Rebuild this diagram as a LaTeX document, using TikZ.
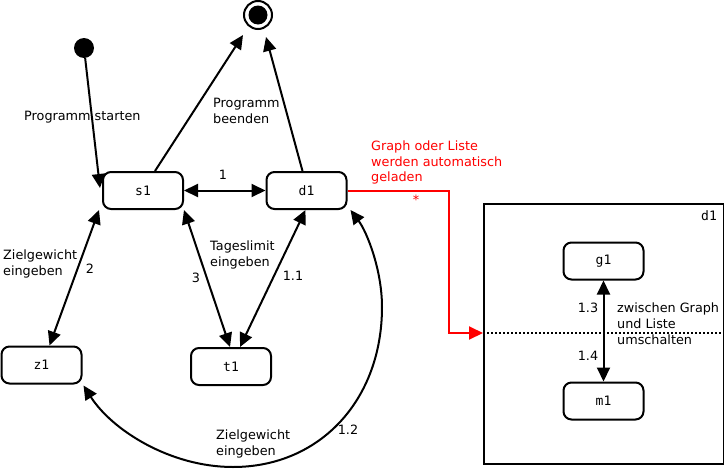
\documentclass[tikz,border=0pt]{standalone}
\usepackage{fontspec}
\setmainfont{DejaVu Sans}
\newfontfamily\monofnt{DejaVu Sans Mono}
\usetikzlibrary{arrows.meta}
\begin{document}
\begin{tikzpicture}[x=1pt,y=-1pt,
  statebox/.style={draw,line width=2pt,rounded corners=8pt,minimum width=80pt,minimum height=37pt,inner sep=0pt,font=\monofnt\fontsize{13}{15}\selectfont},
  lbl/.style={font=\fontsize{12.8}{16}\selectfont,align=left,inner sep=0pt},
  edge/.style={line width=2pt,-{Triangle[length=14pt,width=13pt]}},
  bedge/.style={line width=2pt,{Triangle[length=14pt,width=13pt]}-{Triangle[length=14pt,width=13pt]}}]
\useasboundingbox (0,0) rectangle (724,469);
% states
\node[statebox] (s1) at (143,190.5) {s1};
\node[statebox] (d1) at (306.5,190.5) {d1};
\node[statebox] (z1) at (41.5,365) {z1};
\node[statebox] (t1) at (231,366.5) {t1};
\node[statebox] (g1) at (603.5,261) {g1};
\node[statebox] (m1) at (603.5,401) {m1};
% composite box
\node[draw,line width=2pt,minimum width=240pt,minimum height=260pt,inner sep=0pt,anchor=north west] (box) at (483,203) {};
\node[font=\monofnt\fontsize{13}{15}\selectfont,inner sep=0pt] (boxlbl) at (709,216) {d1};
\coordinate (dl) at (483,333);
\coordinate (dr) at (723,333);
\draw[line width=2pt,dotted] (dl) -- (dr);
% initial and final
\node[circle,fill=black,minimum size=20pt,inner sep=0pt] (init) at (84,48) {};
\node[circle,draw,line width=2pt,minimum size=28pt,inner sep=0pt] (fin) at (258,15) {};
\node[circle,fill=black,minimum size=19pt,inner sep=0pt] (fincore) at (258,15) {};
% edges
\draw[edge] (init) -- ([shift={(-2,-2.5)}]s1.west);
\draw[edge] ([xshift=12]s1.north) -- ([shift={(-15,20)}]fin.center);
\draw[edge] ([xshift=-4]d1.north) -- ([shift={(8,22)}]fin.center);
\draw[bedge] (s1.east) -- (d1.west);
\draw[bedge] ([xshift=-3]s1.south west) -- ([xshift=8]z1.north);
\draw[bedge] (s1.south east) -- ([xshift=-1]t1.north);
\draw[bedge] ([xshift=-1]d1.south) -- ([xshift=9]t1.north);
\coordinate (c1) at (382,307);
\coordinate (c2) at (233,467);
\draw[bedge] ([shift={(3,0)}]d1.south east) .. controls (367,232) and (382,270) .. (c1)
  .. controls (382,400) and (320,467) .. (c2)
  .. controls (170,467) and (112,430) .. ([shift={(1,1)}]z1.south east);
\draw[bedge] (g1.south) -- (m1.north);
\draw[red,line width=2pt,-{Triangle[length=14pt,width=13pt]}] (d1.east) -- ++(101,0) |- (dl);
% labels
\node[lbl,anchor=west] (lps) at (24,117) {Programm starten};
\node[lbl,anchor=west] (lpb) at (213,110.5) {Programm\\beenden};
\node[lbl,anchor=west] (lzg1) at (3,263.5) {Zielgewicht\\eingeben};
\node[lbl] (l2) at (90,269) {2};
\node[lbl] (l3) at (196,278) {3};
\node[lbl,anchor=west] (ltl) at (210,255) {Tageslimit\\eingeben};
\node[lbl] (l11) at (293,276) {1.1};
\node[lbl] (l12) at (348,430) {1.2};
\node[lbl,anchor=west] (lzg2) at (216,443.5) {Zielgewicht\\eingeben};
\node[lbl] (l1) at (223,175) {1};
\node[lbl,anchor=west,text=red,font=\fontsize{12.8}{15.5}\selectfont] (lred) at (371,162.5) {Graph oder Liste\\werden automatisch\\geladen};
\node[lbl,text=red] (lstar) at (416,200) {*};
\node[lbl] (l13) at (588,308) {1.3};
\node[lbl] (l14) at (588,356) {1.4};
\node[lbl,anchor=west] (lzw) at (617,324) {zwischen Graph\\und Liste\\umschalten};
\end{tikzpicture}
\end{document}
